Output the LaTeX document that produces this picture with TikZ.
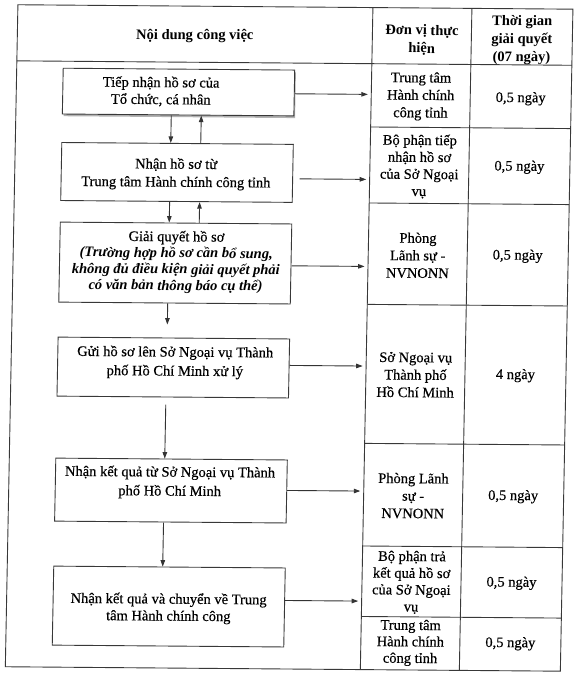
\documentclass[tikz,border=0pt]{standalone}
\usepackage{fontspec}
\setmainfont{Liberation Serif}[UprightFeatures={FakeBold=0.4}]
\usetikzlibrary{arrows.meta,calc,shadows}
\begin{document}
\begin{tikzpicture}[x=1pt,y=-1pt,
  ln/.style={line width=0.9pt, draw=black!78},
  box/.style={ln, rectangle, fill=white, inner sep=0pt},
  txt/.style={align=center, inner sep=0pt, text=black, font=\fontsize{14.5}{17.5}\selectfont},
  hd/.style={align=center, inner sep=0pt, text=black, font=\fontsize{14.5}{18}\selectfont\bfseries},
  arr/.style={line width=0.9pt, draw=black!80, -{Triangle[length=6.5pt,width=4.5pt]}},
]
\useasboundingbox[fill=white] (0,0) rectangle (576,674);
\begin{scope}[cm={1,-0.008,0.019,1,(0,0)}, transform shape]
% table frame
\draw[ln] (18,4.6) rectangle (573,666.6);
\draw[ln] (18,60.7) -- (573,60.7);
\draw[ln] (373,4.6) -- (373,666.6);
\draw[ln] (472,4.6) -- (472,666.6);
\foreach \yy in {124,200,301.4,440.4,543,613.5}
  \draw[ln] (373,\yy) -- (573,\yy);
% headers
\node[hd] (h1) at (195.5,34.5) {Nội dung công việc};
\node[hd] (h2) at (422.5,37) {Đơn vị thực\\hiện};
\node[hd] (h3) at (522.5,36) {Thời gian\\giải quyết\\(07 ngày)};
% column 2 and 3
\node[txt] (c1) at (422.5,93) {Trung tâm\\Hành chính\\công tỉnh};
\node[txt] (d1) at (522.5,94.5) {0,5 ngày};
\node[txt, font=\fontsize{14.5}{17}\selectfont] (c2) at (422.5,163) {Bộ phận tiếp\\nhận hồ sơ\\của Sở Ngoại\\vụ};
\node[txt] (d2) at (522.5,163) {0,5 ngày};
\node[txt] (c3) at (422.5,252) {Phòng\\Lãnh sự -\\NVNONN};
\node[txt] (d3) at (522.5,252) {0,5 ngày};
\node[txt] (c4) at (422.5,371.4) {Sở Ngoại vụ\\Thành phố\\Hồ Chí Minh};
\node[txt] (d4) at (522.5,371.4) {4 ngày};
\node[txt] (c5) at (422.5,492.4) {Phòng Lãnh\\sự -\\NVNONN};
\node[txt] (d5) at (522.5,492.4) {0,5 ngày};
\node[txt, font=\fontsize{14.5}{16.8}\selectfont] (c6) at (422.5,579) {Bộ phận trả\\kết quả hồ sơ\\của Sở Ngoại\\vụ};
\node[txt] (d6) at (522.5,579) {0,5 ngày};
\node[txt, font=\fontsize{14.5}{16.5}\selectfont] (c7) at (422.5,639.5) {Trung tâm\\Hành chính\\công tỉnh};
\node[txt] (d7) at (522.5,639.5) {0,5 ngày};
% flow boxes
\node[box, minimum width=231.5pt, minimum height=45.8pt,
  drop shadow={shadow xshift=1.2pt, shadow yshift=-2.2pt, fill=black!60}] (b1) at (180.25,90.6) {};
\node[box, minimum width=231.5pt, minimum height=58pt] (b2) at (180.25,171) {};
\node[box, minimum width=231.5pt, minimum height=80pt] (b3) at (180.25,261.6) {};
\node[box, minimum width=231.5pt, minimum height=59pt] (b4) at (180.25,366.1) {};
\node[box, minimum width=231.5pt, minimum height=63pt] (b5) at (180.25,489.1) {};
\node[box, minimum width=231.5pt, minimum height=79pt] (b6) at (180.25,605.1) {};
\node[txt, font=\fontsize{14.5}{17}\selectfont] (b1t) at (162.7,90.2) {Tiếp nhận hồ sơ của\\Tổ chức, cá nhân};
\node[txt, font=\fontsize{14.5}{18}\selectfont] (b2t) at (179.3,172.6) {Nhận hồ sơ từ\\Trung tâm Hành chính công tỉnh};
\node[txt, font=\fontsize{14.5}{16.3}\selectfont] (b3t) at (181,260.6) {Giải quyết hồ sơ\\\textbf{\textit{(Trường hợp hồ sơ cần bổ sung,}}\\\textbf{\textit{không đủ điều kiện giải quyết phải}}\\\textbf{\textit{có văn bản thông báo cụ thể)}}};
\node[txt, font=\fontsize{14.5}{19}\selectfont] (b4t) at (181.9,361) {Gửi hồ sơ lên Sở Ngoại vụ Thành\\phố Hồ Chí Minh xử lý};
\node[txt, font=\fontsize{14.5}{19}\selectfont] (b5t) at (179,481) {Nhận kết quả từ Sở Ngoại vụ Thành\\phố Hồ Chí Minh};
\node[txt, font=\fontsize{14.5}{17}\selectfont] (b6t) at (180,607) {Nhận kết quả và chuyển về Trung\\tâm Hành chính công};
% vertical connectors
\draw[arr] ($(b1.south)+(-6.85,0)$) -- ($(b2.north)+(-6.85,0)$);
\draw[arr] ($(b2.north)+(23.15,0)$) -- ($(b1.south)+(23.15,0)$);
\draw[arr] ($(b2.south)+(-6.85,0)$) -- ($(b3.north)+(-6.85,0)$);
\draw[arr] ($(b3.north)+(23.15,0)$) -- ($(b2.south)+(23.15,0)$);
\coordinate (e3) at ($(b3.south)+(-6.85,21)$);
\draw[arr] ($(b3.south)+(-6.85,0)$) -- (e3);
\draw[arr] ($(b4.south)+(-6.85,7)$) -- ($(b5.north)+(-6.85,0)$);
\draw[arr] ($(b5.south)+(-6.85,0)$) -- ($(b6.north)+(-6.85,0)$);
% horizontal connectors
\coordinate (t1) at (369.5,91.4);
\coordinate (t2) at (369.5,176.4);
\coordinate (t3) at (369.5,263.4);
\coordinate (t4) at (369.5,363);
\coordinate (t5) at (369.5,488);
\coordinate (t6) at (369.5,598);
\draw[arr] (b1.east |- t1) -- (t1);
\draw[arr] ($(b2.east |- t2)+(6.4,0)$) -- (t2);
\draw[arr] (b3.east |- t3) -- (t3);
\draw[arr] (b4.east |- t4) -- (t4);
\draw[arr] (b5.east |- t5) -- (t5);
\draw[arr] (b6.east |- t6) -- (t6);
\end{scope}
\end{tikzpicture}
\end{document}
